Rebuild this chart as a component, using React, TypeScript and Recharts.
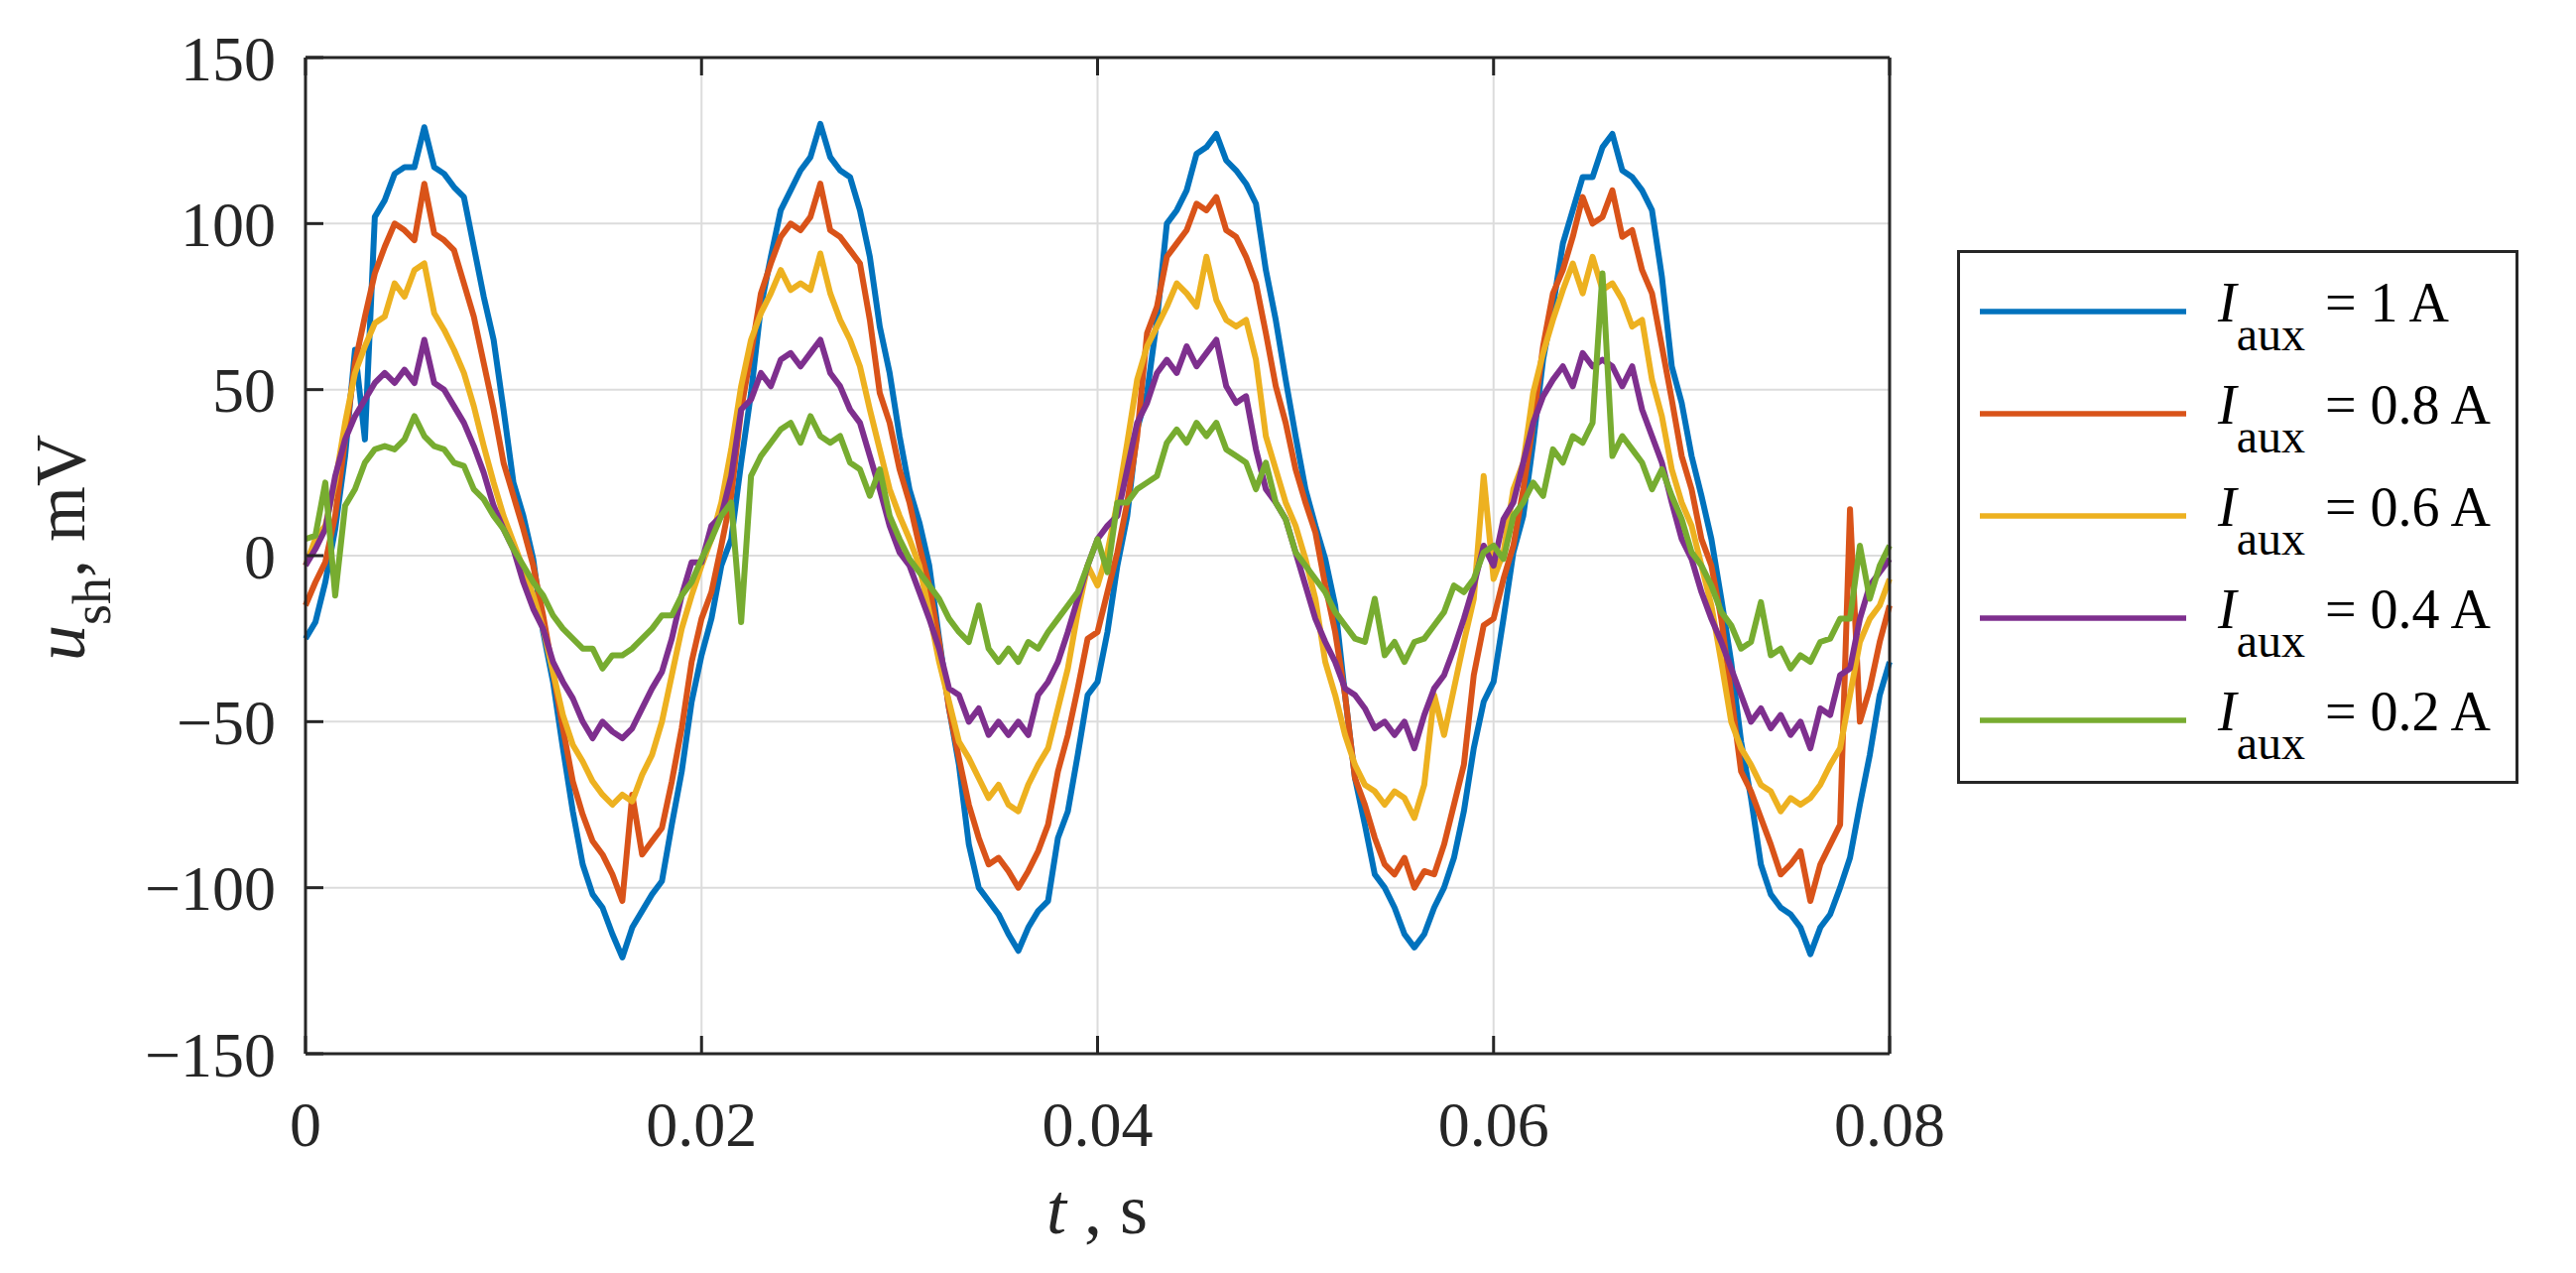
import React from "react";
import { LineChart, Line, XAxis, YAxis, CartesianGrid } from "recharts";

// sampling grid of the scope trace (0 … 0.08 s)
const SAMPLE_STEP_S = 0.0005;

const X_TICKS = [0, 0.02, 0.04, 0.06, 0.08];
const Y_TICKS = [-150, -100, -50, 0, 50, 100, 150];

// u_sh in mV, every 0.5 ms
const U_1A = [
  -25, -20, -8, 8, 30, 62, 35, 102, 107, 115, 117, 117, 129, 117, 115, 111, 108, 93, 78, 65,
  44, 22, 12, -1, -23, -38, -58, -77, -93, -102, -106, -114, -121, -112, -107, -102, -98, -81, -65, -44,
  -30, -19, -3, 5, 28, 49, 75, 90, 104, 110, 116, 120, 130, 120, 116, 114, 104, 90, 69, 55,
  36, 20, 10, -3, -25, -46, -63, -87, -100, -104, -108, -114, -119, -112, -107, -104, -85, -77, -60, -42,
  -38, -23, -3, 12, 38, 49, 71, 100, 104, 110, 121, 123, 127, 119, 116, 112, 106, 86, 71, 53,
  36, 20, 9, -1, -15, -42, -67, -81, -96, -100, -106, -114, -118, -114, -106, -100, -91, -77, -58, -44,
  -38, -19, 1, 12, 34, 59, 75, 94, 104, 114, 114, 123, 127, 116, 114, 110, 104, 84, 57, 46,
  30, 18, 5, -13, -32, -56, -73, -93, -102, -106, -108, -112, -120, -112, -108, -100, -91, -75, -60, -42,
  -32,
];

const U_08A = [
  -15, -8, -2, 12, 35, 58, 72, 85, 93, 100, 98, 95, 112, 97, 95, 92, 82, 72, 58, 44,
  28, 18, 8, -3, -18, -35, -52, -68, -78, -86, -90, -96, -104, -72, -90, -86, -82, -68, -52, -32,
  -19, -11, 3, 18, 44, 61, 79, 88, 96, 100, 98, 102, 112, 98, 96, 92, 88, 71, 49, 40,
  26, 16, 3, -9, -26, -46, -61, -75, -85, -93, -91, -95, -100, -95, -89, -81, -65, -54, -40, -25,
  -23, -11, 1, 16, 36, 67, 75, 90, 94, 98, 106, 104, 108, 98, 96, 90, 82, 67, 51, 40,
  26, 16, 7, -9, -23, -42, -67, -75, -85, -93, -96, -91, -100, -95, -96, -87, -75, -63, -36, -21,
  -19, -7, 3, 20, 40, 63, 79, 86, 96, 108, 100, 102, 110, 96, 98, 86, 79, 63, 47, 30,
  20, 5, -3, -19, -42, -65, -71, -79, -87, -96, -93, -89, -104, -93, -87, -81, 14, -50, -40, -26,
  -15,
];

const U_06A = [
  -3, 5, 9, 22, 40, 55, 63, 70, 72, 82, 78, 86, 88, 73, 68, 62, 55, 45, 33, 22,
  12, 4, -4, -12, -22, -35, -48, -57, -62, -68, -72, -75, -72, -74, -66, -60, -50, -36, -22, -12,
  -3, 5, 16, 32, 51, 65, 73, 79, 86, 80, 82, 80, 91, 79, 71, 65, 57, 44, 32, 20,
  12, 5, -3, -17, -32, -44, -56, -61, -67, -73, -69, -75, -77, -69, -63, -58, -46, -34, -17, -3,
  -9, 1, 16, 34, 53, 63, 69, 75, 82, 79, 75, 90, 77, 71, 69, 71, 59, 36, 26, 16,
  9, -1, -13, -32, -42, -54, -63, -69, -71, -75, -71, -73, -79, -69, -42, -54, -40, -26, -13, 24,
  -7, 1, 20, 28, 49, 61, 71, 80, 88, 79, 90, 80, 82, 77, 69, 71, 53, 42, 26, 16,
  9, -3, -15, -32, -50, -58, -63, -69, -71, -77, -73, -75, -73, -69, -63, -58, -42, -26, -19, -15,
  -7,
];

const U_04A = [
  -3, 2, 8, 24, 35, 42, 47, 52, 55, 52, 56, 52, 65, 52, 50, 45, 40, 33, 25, 15,
  8, 2, -8, -16, -22, -32, -38, -43, -50, -55, -50, -53, -55, -52, -46, -40, -35, -25, -12, -2,
  -2, 9, 12, 24, 44, 47, 55, 51, 59, 61, 57, 61, 65, 55, 51, 44, 40, 30, 20, 9,
  1, -3, -11, -19, -28, -40, -42, -50, -46, -54, -50, -54, -50, -54, -42, -38, -32, -23, -13, -3,
  5, 9, 12, 26, 40, 46, 55, 59, 55, 63, 57, 61, 65, 51, 46, 48, 32, 20, 16, 11,
  1, -9, -19, -26, -32, -40, -42, -46, -52, -50, -54, -50, -58, -48, -40, -36, -28, -19, -9, 3,
  -3, 11, 16, 28, 40, 48, 53, 57, 51, 61, 57, 59, 57, 51, 57, 44, 36, 28, 16, 5,
  -1, -11, -19, -26, -34, -42, -50, -46, -52, -48, -54, -50, -58, -46, -48, -36, -34, -19, -9, -5,
  -1,
];

const U_02A = [
  5, 6, 22, -12, 15, 20, 28, 32, 33, 32, 35, 42, 36, 33, 32, 28, 27, 20, 17, 12,
  8, 2, -3, -8, -12, -18, -22, -25, -28, -28, -34, -30, -30, -28, -25, -22, -18, -18, -12, -8,
  -1, 5, 12, 16, -20, 24, 30, 34, 38, 40, 34, 42, 36, 34, 36, 28, 26, 18, 26, 12,
  5, -1, -5, -9, -13, -19, -23, -26, -15, -28, -32, -28, -32, -26, -28, -23, -19, -15, -11, -3,
  5, -5, 16, 16, 20, 22, 24, 34, 38, 34, 40, 36, 40, 32, 30, 28, 20, 28, 16, 11,
  1, -3, -7, -11, -17, -21, -25, -26, -13, -30, -26, -32, -26, -25, -21, -17, -9, -11, -7, 1,
  3, -1, 12, 16, 22, 18, 32, 28, 36, 34, 40, 85, 30, 36, 32, 28, 20, 26, 18, 11,
  1, -3, -9, -17, -21, -28, -26, -14, -30, -28, -34, -30, -32, -26, -25, -19, -19, 3, -13, -3,
  3,
];

const SERIES = [
  { key: "a10", current: "1", color: "#0072BD", values: U_1A },
  { key: "a08", current: "0.8", color: "#D95319", values: U_08A },
  { key: "a06", current: "0.6", color: "#EDB120", values: U_06A },
  { key: "a04", current: "0.4", color: "#7E2F8E", values: U_04A },
  { key: "a02", current: "0.2", color: "#77AC30", values: U_02A },
];

const chartData = U_1A.map((_, i) => {
  const row: Record<string, number> = { t: +(i * SAMPLE_STEP_S).toFixed(4) };
  SERIES.forEach((s) => {
    row[s.key] = s.values[i];
  });
  return row;
});

const FONT = "'Liberation Serif', 'Times New Roman', serif";
const INK = "#262626";

const fmtY = (v: number) => (v < 0 ? `\u2212${Math.abs(v)}` : `${v}`);
const fmtX = (v: number) => (v === 0 ? "0" : v.toFixed(2));

function YTitle() {
  return (
    <text
      x={85}
      y={552}
      transform="rotate(-90, 85, 552)"
      textAnchor="middle"
      fontFamily={FONT}
      fontSize={72}
      fill={INK}
    >
      <tspan fontStyle="italic">u</tspan>
      <tspan fontSize={54} dy={26}>sh</tspan>
      <tspan dy={-26}>, mV</tspan>
    </text>
  );
}

function XTitle() {
  return (
    <text x={1106} y={1243} textAnchor="middle" fontFamily={FONT} fontSize={72} fill={INK}>
      <tspan fontStyle="italic">t</tspan>
      <tspan> , s</tspan>
    </text>
  );
}

function LegendBox() {
  return (
    <svg
      width={566}
      height={538}
      style={{ position: "absolute", left: 1973, top: 252 }}
    >
      <rect x={1.5} y={1.5} width={563} height={535} fill="#fff" stroke={INK} strokeWidth={3} />
      {SERIES.map((s, i) => {
        const y = 62 + i * 103;
        return (
          <g key={s.key}>
            <line x1={23} x2={231} y1={y} y2={y} stroke={s.color} strokeWidth={5.5} />
            <text x={263} y={y + 10} fontFamily={FONT} fontSize={56} fill="#000">
              <tspan fontStyle="italic">I</tspan>
              <tspan fontSize={48} dy={29}>aux</tspan>
              <tspan dy={-29} dx={6}>{` = ${s.current} A`}</tspan>
            </text>
          </g>
        );
      })}
    </svg>
  );
}

export default function App() {
  const tickStyle = { fontFamily: FONT, fontSize: 64, fill: INK };
  return (
    <div
      style={{
        position: "absolute",
        left: 0,
        top: 0,
        width: 2597,
        height: 1283,
        background: "#fff",
      }}
    >
      <LineChart
        width={2597}
        height={1283}
        data={chartData}
        margin={{ top: 48, right: 682, bottom: 121, left: 108 }}
      >
        <CartesianGrid stroke="#dcdcdc" strokeWidth={2} />
        <XAxis
          dataKey="t"
          type="number"
          domain={[0, 0.08]}
          ticks={X_TICKS}
          interval={0}
          height={100}
          tickFormatter={fmtX}
          tick={tickStyle}
          tickSize={-18}
          tickMargin={66}
          stroke={INK}
          strokeWidth={3}
          label={<XTitle />}
        />
        <XAxis
          xAxisId="top"
          orientation="top"
          dataKey="t"
          type="number"
          domain={[0, 0.08]}
          ticks={X_TICKS}
          interval={0}
          height={10}
          tickFormatter={() => ""}
          tickSize={-18}
          stroke={INK}
          strokeWidth={3}
        />
        <YAxis
          type="number"
          domain={[-150, 150]}
          ticks={Y_TICKS}
          interval={0}
          width={200}
          tickFormatter={fmtY}
          tick={tickStyle}
          tickSize={-18}
          tickMargin={48}
          stroke={INK}
          strokeWidth={3}
          label={<YTitle />}
        />
        <YAxis
          yAxisId="right"
          orientation="right"
          type="number"
          domain={[-150, 150]}
          ticks={Y_TICKS}
          interval={0}
          width={10}
          tickFormatter={() => ""}
          tickSize={-18}
          stroke={INK}
          strokeWidth={3}
        />
        {SERIES.map((s) => (
          <Line
            key={s.key}
            type="linear"
            dataKey={s.key}
            stroke={s.color}
            strokeWidth={6}
            strokeLinejoin="round"
            dot={false}
            activeDot={false}
            isAnimationActive={false}
          />
        ))}
      </LineChart>
      <LegendBox />
    </div>
  );
}
